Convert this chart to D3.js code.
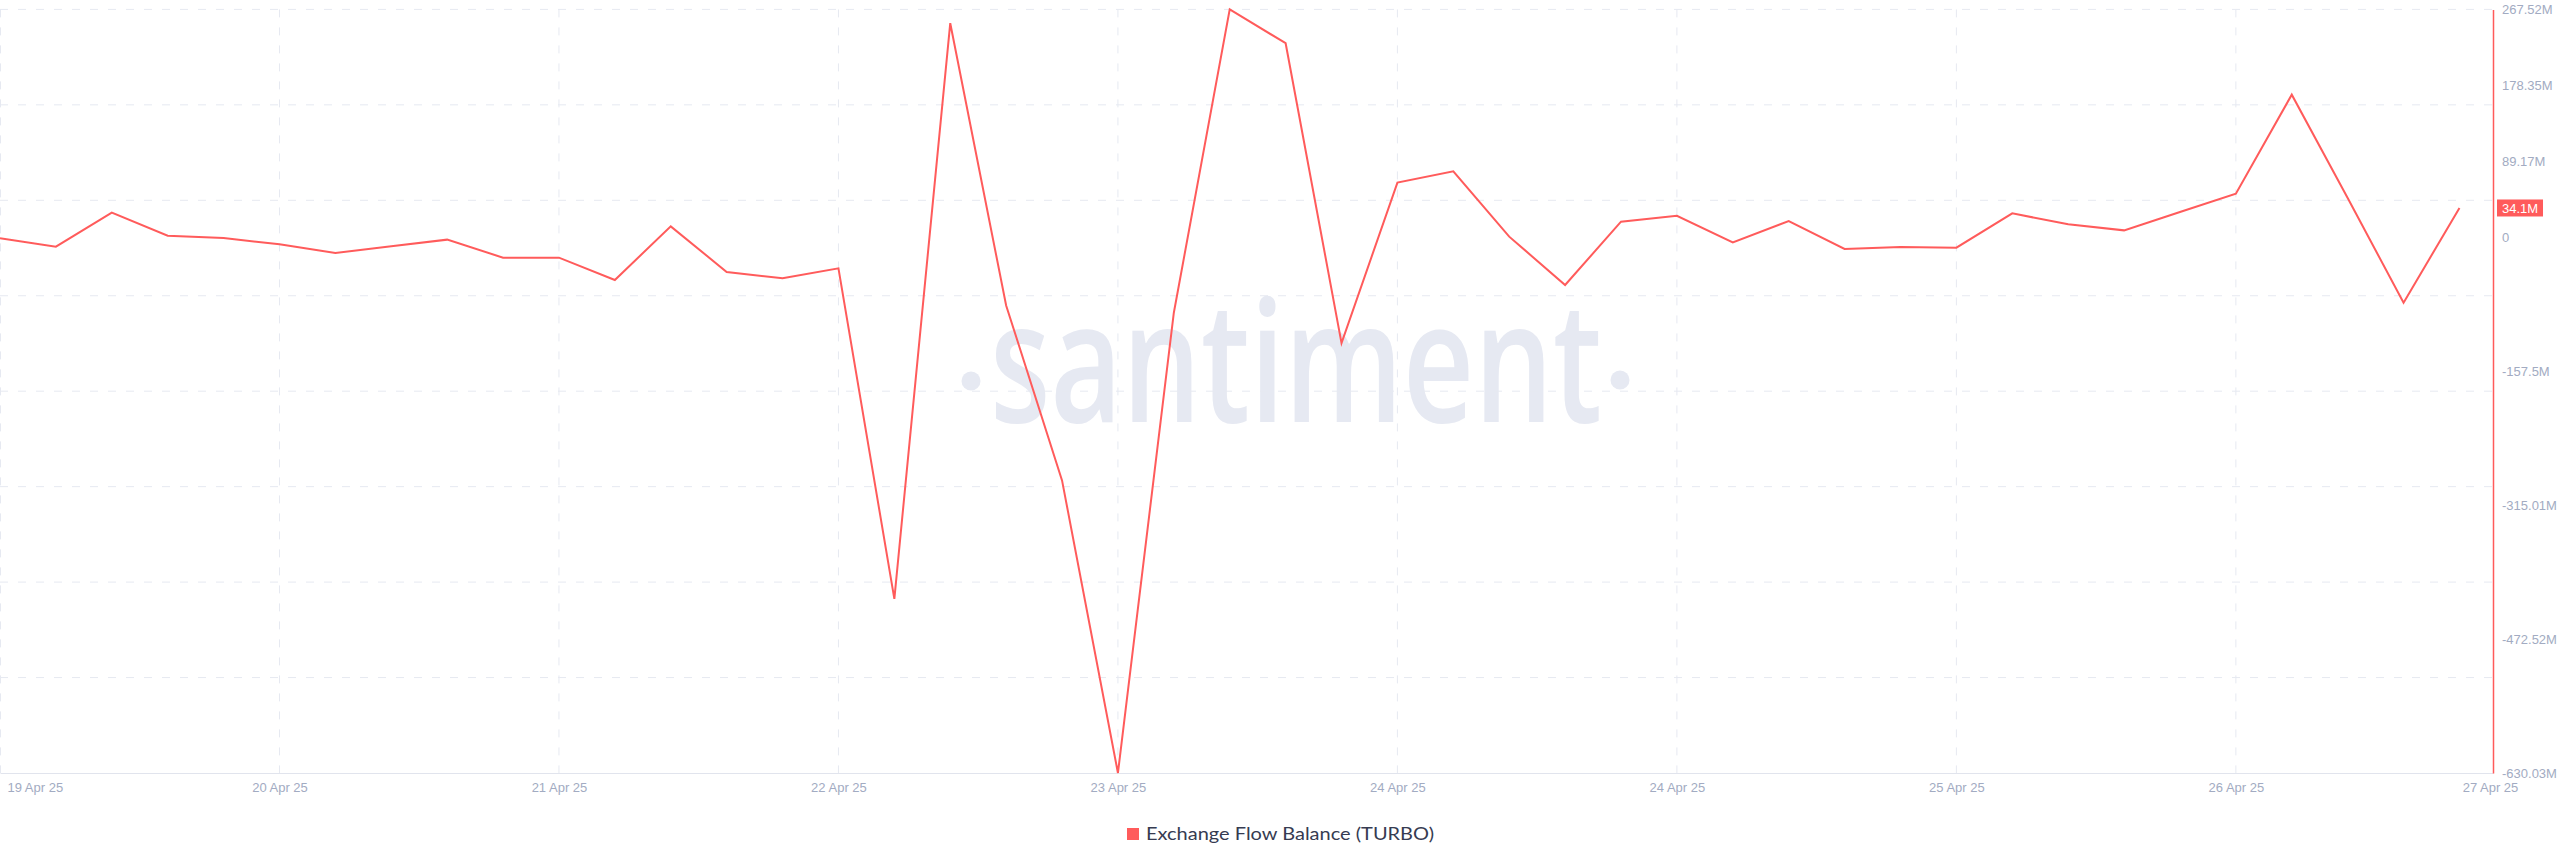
<!DOCTYPE html>
<html>
<head>
<meta charset="utf-8">
<script src="https://cdn.jsdelivr.net/npm/d3@7"></script>
<style>
  html, body { margin: 0; padding: 0; background: #ffffff; }
  svg { display: block; }
</style>
</head>
<body>
<svg id="chart" width="2560" height="867"></svg>
<script>
// ---- Data (values in millions) ----
const pointIndex = d3.range(45);
const flowBalance = [
  -1.5, -11.4, 28.6, 1.5, -1.2, -8.6, -18.8, -11.0, -3.1, -24.3,
  -24.3, -50.5, 12.5, -41.1, -48.6, -36.8, -425.3, 251.3, -80.5, -286.1,
  -630.0, -89.0, 267.5, 227.8, -124.7, 63.9, 77.2, 0.4, -56.4, 18.0,
  25.0, -6.3, 18.8, -14.1, -11.8, -12.5, 27.8, 14.9, 7.8, 29.4,
  50.9, 167.3, 45.8, -77.2, 34.1
];
const xTickPositions = [0, 5, 10, 15, 20, 25, 30, 35, 40, 44.6];
const xTickLabels = ["19 Apr 25", "20 Apr 25", "21 Apr 25", "22 Apr 25", "23 Apr 25",
                     "24 Apr 25", "24 Apr 25", "25 Apr 25", "26 Apr 25", "27 Apr 25"];
const yTickValues = [267.52, 178.35, 89.17, 0, -157.5, -315.01, -472.52, -630.03];
const yTickLabels = ["267.52M", "178.35M", "89.17M", "0", "-157.5M", "-315.01M", "-472.52M", "-630.03M"];
const currentValue = 34.1;
const currentLabel = "34.1M";
const seriesName = "Exchange Flow Balance (TURBO)";

// ---- Layout ----
const plotLeft = 0, plotRight = 2493, plotTop = 9.4, plotBottom = 773;
const red = "#ff5b5b";
const axisText = "#a2abc2";
const gridColor = "#e6e9f1";

const svg = d3.select("#chart");

const x = d3.scaleLinear().domain([0, 44.6]).range([plotLeft, plotRight]);
const y = d3.scaleLinear().domain([-630.03, 267.52]).range([plotBottom, plotTop]);

// ---- Watermark ----
const wm = svg.append("g").attr("class", "watermark");
wm.append("text")
  .attr("x", 990).attr("y", 422)
  .attr("font-family", "Open Sans, sans-serif")
  .attr("font-size", 168)
  .attr("font-weight", 600)
  .attr("fill", "#e6e9f2")
  .attr("textLength", 612)
  .attr("lengthAdjust", "spacingAndGlyphs")
  .text("santiment");
wm.append("circle").attr("cx", 971).attr("cy", 381).attr("r", 9.5).attr("fill", "#e6e9f2");
wm.append("circle").attr("cx", 1620).attr("cy", 380).attr("r", 9.5).attr("fill", "#e6e9f2");

// ---- Grid ----
const [dMin, dMax] = y.domain();
const hGrid = d3.range(9).map(i => dMin + i * (dMax - dMin) / 8);
const grid = svg.append("g").attr("class", "grid");
grid.selectAll("line.h").data(hGrid.filter(v => v !== dMin)).join("line")
  .attr("class", "h")
  .attr("x1", plotLeft).attr("x2", plotRight)
  .attr("y1", d => y(d)).attr("y2", d => y(d))
  .attr("stroke", gridColor).attr("stroke-width", 1)
  .attr("stroke-dasharray", "8,10");
grid.selectAll("line.v").data(xTickPositions.slice(0, -1)).join("line")
  .attr("class", "v")
  .attr("x1", d => Math.max(x(d), 0.5)).attr("x2", d => Math.max(x(d), 0.5))
  .attr("y1", plotTop).attr("y2", plotBottom)
  .attr("stroke", gridColor).attr("stroke-width", 1)
  .attr("stroke-dasharray", "8,10");

// ---- X axis ----
const xAxis = d3.axisBottom(x)
  .tickValues(xTickPositions)
  .tickFormat((d, i) => xTickLabels[i])
  .tickSize(0)
  .tickPadding(10);
const gx = svg.append("g").attr("transform", `translate(0,${plotBottom})`).call(xAxis);
gx.select(".domain").attr("stroke", "#e1e4ed").attr("stroke-width", 1.2);
gx.selectAll("text")
  .attr("fill", axisText)
  .attr("font-family", "Liberation Sans, Arial, sans-serif")
  .attr("font-size", 13)
  .attr("text-anchor", (d, i) => i === 0 ? "start" : "middle")
  .attr("dx", (d, i) => i === 0 ? 7 : (i === xTickLabels.length - 1 ? -3 : 0));

// ---- Y axis (right) ----
const yAxis = d3.axisRight(y)
  .tickValues(yTickValues)
  .tickFormat((d, i) => yTickLabels[i])
  .tickSize(0)
  .tickPadding(9);
const gy = svg.append("g").attr("transform", `translate(${plotRight},0)`).call(yAxis);
gy.select(".domain").attr("stroke", red).attr("stroke-width", 1.5);
gy.selectAll("text")
  .attr("fill", axisText)
  .attr("font-family", "Liberation Sans, Arial, sans-serif")
  .attr("font-size", 13);

// ---- Line ----
const line = d3.line()
  .x((d, i) => x(pointIndex[i]))
  .y(d => y(d))
  .curve(d3.curveLinear);
svg.append("path")
  .datum(flowBalance)
  .attr("d", line)
  .attr("fill", "none")
  .attr("stroke", red)
  .attr("stroke-width", 2)
  .attr("stroke-linejoin", "miter");

// ---- Current value label ----
const cv = svg.append("g").attr("transform", `translate(${plotRight + 4},${y(currentValue)})`);
cv.append("rect").attr("x", 0).attr("y", -8.5).attr("width", 46).attr("height", 17).attr("fill", red);
cv.append("text").attr("x", 23).attr("y", 0).attr("dy", "0.35em")
  .attr("text-anchor", "middle")
  .attr("fill", "#ffffff")
  .attr("font-family", "Liberation Sans, Arial, sans-serif")
  .attr("font-size", 13)
  .text(currentLabel);

// ---- Legend ----
const lg = svg.append("g");
lg.append("rect").attr("x", 1127).attr("y", 828).attr("width", 12).attr("height", 12).attr("fill", red);
lg.append("text").attr("x", 1146).attr("y", 834).attr("dy", "0.35em")
  .attr("fill", "#363b51")
  .attr("font-family", "Lato, Open Sans, sans-serif")
  .attr("font-size", 18)
  .attr("textLength", 288)
  .attr("lengthAdjust", "spacingAndGlyphs")
  .text(seriesName);
</script>
</body>
</html>
